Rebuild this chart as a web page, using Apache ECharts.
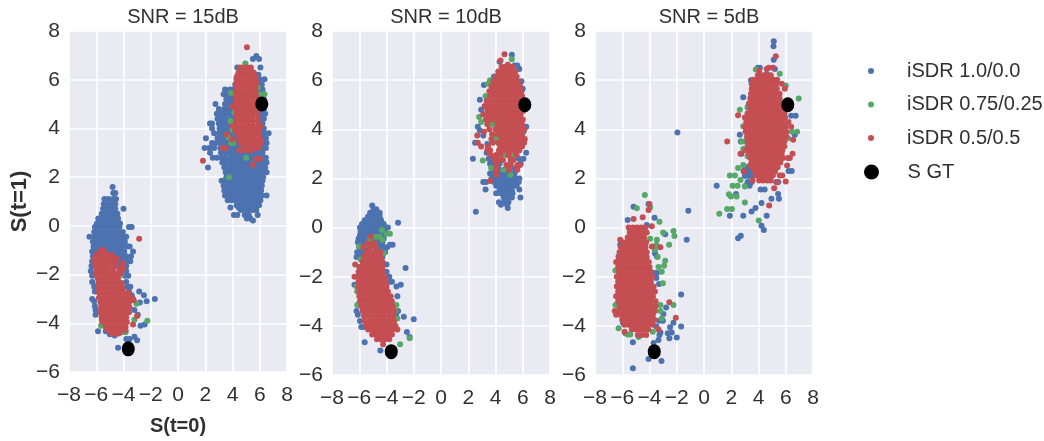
<!DOCTYPE html>
<html><head><meta charset="utf-8">
<style>html,body{margin:0;padding:0;background:#fff}#c{width:1044px;height:441px}</style>
<script src="https://cdn.jsdelivr.net/npm/echarts@6/dist/echarts.min.js"></script>
</head><body><div id="c"></div>
<script>
// each row: [y, x, x, x ...]
const panelTitles = ['SNR = 15dB','SNR = 10dB','SNR = 5dB'];
const seriesNames = ['iSDR 1.0/0.0','iSDR 0.75/0.25','iSDR 0.5/0.5','S GT'];
const groundTruth = [[6.15,5],[-3.65,-5.05]];

const blue15 = [
[6.97,5.75],[6.85,5.5,5.95],[6.5,6.05,4.35],[6.2,5.9,4.4],[6.02,6.35,6,4.3],[5.8,6.15,5.9,4.2],
[5.6,3.45,3.8,4.05,6.2,5.95],[5.4,3.35,3.7,4,6.25,5.95],[5.2,3.55,3.85,4.1,6.3,6],[5,2.75,3.45,3.75,4.05,6.4,6.05],
[4.8,3,3.4,3.7,4,6.3,6],[4.6,2.85,3.2,3.5,3.8,4.1,6.4,6.05],[4.4,2.9,3.2,3.5,3.85,4.1,6.3,6],
[4.2,2.35,2.5,3,3.3,3.6,3.9,4.15,6.2,5.95],[4,2.5,3.05,3.35,3.7,4,6.3,6],[3.8,2.65,3,3.3,3.6,3.9,4.2,6.65,6.3,6],
[3.6,2.05,2.9,3.25,3.55,3.85,4.2,6.45,6.15],[3.4,2.5,2.8,3.15,3.45,3.75,4.1,4.4,6.5,6.2],
[3.2,1.95,2.3,2.65,3.1,3.4,3.7,4,4.3,4.6,5,5.3,5.6,5.9,6.2,6.45],
[3,2.35,3.15,3.45,3.8,4.1,4.4,4.7,5,5.3,5.6,5.9,6.2],
[2.8,2.55,2.85,3.2,3.5,3.85,4.15,4.45,4.75,5.05,5.35,5.65,5.95,6.25,6.45],
[2.6,3.25,3.55,3.9,4.2,4.5,4.8,5.1,5.4,5.7,6,6.3,6.5],
[2.4,2.2,3.4,3.7,4,4.3,4.6,4.9,5.2,5.5,5.8,6.1,6.4],
[2.2,3.5,3.8,4.1,4.4,4.7,5,5.3,5.6,5.9,6.2,6.5],
[2,3.55,3.85,4.15,4.45,4.75,5.05,5.35,5.65,5.95,6.25],
[1.85,3.2,3.45,3.75,4.05,4.35,4.65,4.95,5.25,5.55,5.85,6.2],
[1.65,3.35,3.6,3.9,4.2,4.5,4.8,5.1,5.4,5.7,6,6.15],
[1.45,3.4,3.7,4,4.3,4.6,4.9,5.2,5.5,5.8,6.1],
[1.25,3.45,3.75,4.05,4.35,4.65,4.95,5.25,5.55,5.85,6.15,6.5],
[1.05,3.65,3.95,4.25,4.55,4.85,5.15,5.45,5.75,6.05],
[0.85,4.3,4.6,4.9,5.2,5.5,5.8,5.95],[0.75,3.85,4.45],[0.65,4.6,4.9,5.2,5.5,5.75],
[0.45,4.1,4.35,4.9,5.2,5.85],[0.3,5.05,5.3],[0.22,5.5],
[1.6,-4.8],[1.35,-4.75,-4.6],[1.1,-5.4,-5.1,-4.75,-4.55],[0.9,-5.45,-5.15,-4.85,-4.6],[0.7,-5.5,-5.2,-4.9,-4.6,-4],
[0.5,-5.6,-5.3,-5,-4.7,-4.45],[0.3,-5.85,-5.55,-5.25,-4.95,-4.65,-4.4],[0.1,-5.95,-5.65,-5.35,-5.05,-4.75,-4.45,-4.25],
[-0.05,-6.1,-5.8,-5.5,-5.2,-4.9,-4.6,-4.3,-3.4,-3.6],[-0.25,-6.15,-5.85,-5.55,-5.25,-4.95,-4.65,-4.35,-4.05],
[-0.45,-6.5,-6.15,-5.9,-5.6,-5.3,-5,-4.7,-4.4,-4.1,-3.8],[-0.65,-6.25,-5.95,-5.65,-5.35,-5.05,-4.75,-4.45,-4.15,-3.9],
[-0.85,-6.2,-5.9,-5.6,-5.3,-5,-4.7,-4.4,-4.1,-3.75,-3.55],[-1.05,-6.3,-6,-5.7,-5.4,-5.1,-4.8,-4.5,-4.2,-3.95,-3.3],
[-1.25,-6.25,-5,-4.7,-4.4,-4.1,-3.8,-3.45],[-1.45,-6.3,-4.6,-4.3,-4,-3.7,-3.5],[-1.65,-6.35,-4.4,-4.1,-3.8],
[-1.85,-6.4,-4.1,-3.8],[-2.05,-6.3,-3.9,-3.65],[-2.3,-6.3,-3.8],[-2.5,-6.15,-3.75,-3.5],[-2.7,-6.1,-3.6,-2.85],
[-2.85,-3.4,-2.5],[-3,-6.3,-1.7,-3.3],[-3.1,-6.15,-2.3],[-3.15,-2.8],[-3.3,-6.1],[-3.45,-6.05,-3.2],[-3.65,-6.05,-2.95],
[-4.05,-2.45],[-4.1,-2.75],[-4.33,-5.87,-5.3],[-4.45,-5],[-4.5,-4.65],[-4.55,-3.2],[-4.65,-3.8,-3.55],[-4.7,-3],[-5,-4.4]
];
const green15 = [
[6.67,4.94],[6.15,4.4],[5.68,5.87],[5.45,3.9],[5.4,6.07,6.35],[4.65,4.15],[4.3,3.86],[3.95,4],[3.65,3.67],[3.45,4.9],[3.4,3.9,4.05],[2.8,5],[2,3.74],
[-2,-4.15],[-2.55,-4.2],[-3.2,-3.05],[-3.85,-3.2,-5.6],[-3.9,-2.25],[-4.1,-5.65],[-4.37,-4.1,-3.85]
];
const red15 = [
[7.33,5.06],[6.5,4.55,4.8,5.1,5.35],[6.3,4.45,4.75,5.05,5.35,5.55],[6.1,4.3,4.6,4.9,5.2,5.5,5.7],[5.9,4.3,4.6,4.9,5.2,5.5,5.75],
[5.7,4.25,4.55,4.85,5.15,5.45,5.7],[5.5,4.25,4.55,4.85,5.15,5.45,5.7],[5.3,4.25,4.55,4.85,5.15,5.45,5.75],[5.1,4.25,4.55,4.85,5.15,5.45,5.75],
[4.9,3.96,4.3,4.6,4.9,5.2,5.5,5.8],[4.7,4.3,4.6,4.9,5.2,5.5,5.8],[4.5,4.3,4.6,4.9,5.2,5.5,5.85],[4.3,4.3,4.6,4.9,5.2,5.5,5.85],
[4.1,4.03,4.35,4.65,4.95,5.25,5.55,5.9,6.05],[3.9,4.2,4.5,4.8,5.1,5.4,5.7,5.95],[3.75,3.55,4.4,4.7,5,5.3,5.6,5.95],[3.55,3.96,4.5,4.8,5.1,5.4,5.7,6.05],
[3.4,4.6,4.95,5.25,5.5,5.8,6.1],[3.2,3.3,3.5,4.85,5.3,5.7,5.95],[3.1,4.5,4.7,5.1,5.4],[2.75,5.75,6],[2.67,1.83],[2.5,5.5],
[-0.53,-2.85],[-1,-5.65,-5.45],[-1.2,-6,-5.75,-5.45,-5.2,-4.85],[-1.35,-6.1,-5.8,-5.5,-5.2,-4.9,-4.65,-4.45],[-1.55,-6.1,-5.8,-5.5,-5.25,-4.9,-4.6,-4.05],
[-1.75,-6,-5.7,-5.4,-5.1,-4.75,-4.3,-4],[-1.95,-6.05,-5.75,-5.45,-5.15,-4.8,-4.5,-4.2],[-2.15,-5.9,-5.6,-5.3,-5,-4.7,-4.4],
[-2.35,-5.85,-5.55,-5.25,-4.95,-4.65,-4.35,-4.15],[-2.55,-5.85,-5.55,-5.25,-4.95,-4.65,-4.35,-4.05],[-2.75,-5.8,-5.5,-5.2,-4.9,-4.6,-4.3,-4,-3.65],
[-2.95,-5.8,-5.5,-5.2,-4.9,-4.6,-4.3,-4,-3.7,-3.4],[-3.05,-3.25],[-3.15,-5.7,-5.4,-5.1,-4.8,-4.5,-4.2,-3.9,-3.6],[-3.35,-5.65,-5.35,-5.05,-4.75,-4.45,-4.15,-3.85,-3.55],
[-3.55,-5.7,-5.4,-5.1,-4.8,-4.5,-4.2,-3.9,-3.6],[-3.7,-3],[-3.75,-5.6,-5.3,-5,-4.7,-4.4,-4.1,-3.8],[-3.95,-5.55,-5.25,-4.95,-4.65,-4.35,-4.05,-3.75],
[-4.05,-3.3],[-4.15,-5.3,-5,-4.7,-4.4,-4.1,-3.85],[-4.3,-5.1,-4.8,-4.5,-4.2,-3.85],[-4.42,-4.85,-4.6,-4.35]
];

const blue10 = [
[7.03,5.2],[6.75,4.3],[6.6,5.4,5.6],[6.45,5.75],[6.15,3.9],[5.95,3.7,5.9],[5.8,3.15],[5.65,6],[5.2,2.85],[4.8,2.95],[4.1,2.7,6.25],[3.95,2.85,6.1],[3.75,3.1],
[3.45,2.5],[3.4,3.4],[3.05,3.35,6.25],[2.8,2.34,3.5,3.75,4,5.7,6.05],[2.6,3.6,3.9,4.3,5.1,5.85],[2.4,3.75,4.2,4.9,5.4],
[2.2,3.6,3.9,4.2,4.5,4.8,5.1,5.4],[2,3.7,4,4.3,4.6,4.9,5.2,5.5,5.75],[1.85,3.1,3.3,3.9,4.2,4.5,4.8,5.1,5.4,5.7],[1.7,4.05,4.35,4.65,4.95,5.25,5.55],
[1.55,3.27,4.3,4.6,4.9,5.2,5.75],[1.4,4.05,4.37,4.65,4.95,5.25],[1.22,4.6,4.95,5.2,5.83],[1.03,4.25,4.65,4.95],[0.93,4.4,4.85],[0.8,4.9],[0.64,2.56],
[0.9,-5.05],[0.75,-4.95,-4.75],[0.6,-5.2,-4.9,-4.5],[0.45,-5.35,-5.05,-4.75,-4.5],[0.3,-5.6,-5.3,-5,-4.7,-4.4],[0.2,-3.15],
[0.15,-5.8,-5.5,-5.2,-4.9,-4.6,-4.2],[0,-5.95,-5.65,-5.35,-5.05,-4.75,-4.45,-4.15,-3.9],[-0.15,-5.9,-5.6,-5.3,-5,-4.7,-4.4,-4.1],
[-0.3,-5.95,-5.65,-5.35,-5.05,-4.75,-4.45,-4.2],[-0.45,-6.05,-5.75,-5.45,-5.15,-4.85,-4.55,-4.2],[-0.6,-6.1,-5.8,-5.5,-5.2,-4.9,-4.6,-4.3],
[-0.7,-3.75,-3.55],[-0.8,-6,-5.75,-5.45,-4.5,-4.15,-3.95],[-1,-6.15,-5.85,-4.4,-4.1],[-1.2,-6.2,-5.9,-4.3],[-1.5,-4.2,-4],[-1.65,-2.6],[-1.8,-4],
[-2,-3.8],[-2.2,-3.75,-3.6],[-2.33,-2.95,-6.35],[-2.4,-3.27],[-2.8,-3.2],[-3.4,-3.15,-6.2],[-3.55,-3.3,-6.1],[-3.63,-2.73],[-3.73,-2],[-3.8,-5.95],
[-4.05,-5.85,-5.7],[-4.25,-2.5],[-4.45,-2.3],[-4.67,-5.6],[-5,-4.45]
];
const green10 = [
[6.85,5.2],[6,3.6],[5.85,3.45],[5.35,3.27],[4.5,2.8],[4.3,2.95,3.68],[4.2,3.8],[3.85,6],[3.65,4.05,4.3],[3.5,4.15,4.4],[3.35,4.3],[3.25,4.5],[2.95,4.8,5.27],[2.73,3.07],[2.42,3.68],[2.35,4.6],[2.15,5.1],
[-0.1,-4.35],[-0.25,-4,-3.75],[-0.37,-4.5,-4.8],[-0.5,-4.3,-5.2],[-0.7,-5.35,-5.15,-4.85],[-0.77,-6],[-1.05,-4.2],[-1.3,-5.9],[-1.6,-6],[-2.4,-6.2],[-2.6,-6.15],[-3.15,-6.15,-3.27],[-3.4,-3.35],[-3.7,-3.2],[-4.5,-2.3],[-4.75,-3]
];
const red10 = [
[7.05,4.66],[6.8,4.37],[6.63,4.9],[6.55,4.45,4.75,5.05,5.25],[6.35,4.2,4.5,4.8,5.1,5.45],[6.15,4.05,4.35,4.65,4.95,5.25,5.55],[5.95,3.85,4.15,4.45,4.75,5.05,5.35,5.65],
[5.75,3.7,4,4.3,4.6,4.9,5.2,5.5,5.8],[5.55,3.55,3.85,4.15,4.45,4.75,5.05,5.35,5.65,5.9],[5.35,3.6,3.9,4.2,4.5,4.8,5.1,5.4,5.7,5.95],
[5.15,3.35,3.65,3.95,4.25,4.55,4.85,5.15,5.45,5.75,6],[4.95,3.2,3.5,3.8,4.1,4.4,4.7,5,5.3,5.6,5.9],[4.75,3.4,3.7,4,4.3,4.6,4.9,5.2,5.5,5.8,6.05],
[4.6,3.1,3.45,3.75,4.05,4.35,4.65,4.95,5.25,5.55,5.85],[4.4,3.3,3.6,3.9,4.2,4.5,4.8,5.1,5.4,5.7,6],[4.2,3.4,4.15,4.45,4.75,5.05,5.35,5.65,5.95],
[4,3.55,4,4.3,4.6,4.9,5.2,5.5,5.8,6.1],[3.9,3.15],[3.8,3.75,4.15,4.45,4.75,5.05,5.35,5.65,5.95],[3.75,2.66],[3.6,3.7,4.45,4.75,5.05,5.35,5.65,5.95,6.15],
[3.45,2.7,3.8,4.2,4.6,4.9,5.2,5.5,5.8,6.1],[3.3,2.95,3.45,4.4,4.7,5,5.3,5.6,5.95],[3.15,3.4,3.6,4.25,4.55,4.85,5.15,5.45,5.75],[2.95,3.65,4.05,4.4,4.95,5.55],
[2.75,3.95,4.2,4.55,5.1,5.3],[2.55,4.1,4.8,5.1,5.6,5.8],[2.35,4.05,5,5.6],[2.15,4.05],[1.9,3.6],
[-0.37,-5.15],[-0.65,-5.4,-5.05,-4.85],[-0.8,-5.7,-5.2,-4.8],[-1,-5.5,-5.25,-4.95,-4.6,-4.45],[-1.2,-5.65,-5.35,-5.05,-4.75,-4.45],[-1.4,-5.75,-5.45,-5.15,-4.85,-4.55,-4.3],
[-1.5,-6.3],[-1.6,-5.95,-5.65,-5.35,-5.05,-4.75,-4.45,-4.3],[-1.8,-6.05,-5.75,-5.45,-5.15,-4.85,-4.55,-4.25],[-2,-6.35,-6.15,-5.85,-5.55,-5.25,-4.95,-4.65,-4.35,-4.1],
[-2.2,-6.05,-5.75,-5.45,-5.15,-4.85,-4.55,-4.25,-4.05],[-2.4,-6.05,-5.8,-5.5,-5.2,-4.9,-4.6,-4.3,-4],[-2.6,-6,-5.7,-5.4,-5.1,-4.8,-4.5,-4.2,-3.9],
[-2.8,-6,-5.75,-5.45,-5.15,-4.85,-4.55,-4.25,-3.95,-3.7],[-3,-5.95,-5.65,-5.35,-5.05,-4.75,-4.45,-4.15,-3.85,-3.6],[-3.2,-5.85,-5.6,-5.3,-5,-4.7,-4.4,-4.1,-3.8,-3.55],
[-3.4,-5.75,-5.45,-5.15,-4.85,-4.55,-4.25,-3.95,-3.65,-3.45],[-3.6,-5.65,-5.35,-5.05,-4.75,-4.45,-4.15,-3.85,-3.55],[-3.8,-5.6,-5.3,-5,-4.7,-4.4,-4.1,-3.8,-3.45],
[-4,-5.5,-5.2,-4.9,-4.6,-4.3,-4,-3.7,-3.35],[-4.15,-5.35,-5.05,-4.75,-4.45,-4.15,-3.85,-3.55,-3.2],[-4.35,-5.05,-4.8,-4.5,-4.2,-3.9,-3.6],[-4.55,-4.7,-4.4,-4.1,-3.8],[-4.75,-4.25]
];

const blue5 = [
[7.58,5.12],[7.38,5.1],[6.83,5.12],[6.5,3.95,4.1],[6.45,5.2],[6.25,4.6],[6,3.45],[5.85,3.5],[5.3,2.88],[4.9,3.2],[4.55,6.73,6.4],[3.78,2.63,6.66],[3.87,-1.95],[3.5,2.7],[3,2.75],
[2.45,3,3.2],[2.3,2.9,3.15,3.4,6.2,6.44,5.2],[2.1,3,3.3,3.55],[1.85,3.2,3.5,5.3,5.45],[1.7,0.93,3.35,3.05],[1.55,4.15,4.45],[1.37,5.44,2.35],[1.17,5.5,4.95],[1,4.22],[0.8,3.78],[0.65,3.49],
[0.48,1.9,2.88,4.6],[0.07,4.22],[-0.1,4.39],[-0.33,2.7],[-0.43,2.5],
[0.96,-4.07],[0.85,-5.17],[0.68,-1.15],[0.4,-3.63],[0.31,-5.6],[0.1,-4.2],[-0.27,-2.85],[-0.5,-1.27,-5.5],[-0.7,-6.15],[-1.18,-6.27,-3.46],[-1.05,-3.6],[-1.85,-3.46,-3.6],[-2.05,-3.5],[-2.72,-1.68],[-2.3,-3.3],
[-3.25,-2.78],[-3.52,-2.98],[-3.79,-3.02,-3.3],[-3.87,-2.24,-5.95],[-4.03,-1.68,-3.5],[-4.06,-2.49],[-4.27,-2.37,-3.2],[-4.3,-2.66],[-4.37,-3.27],[-4.47,-2],[-4.5,-2.54],[-4.58,-3.34],[-4.67,-5.22],[-4.7,-3.7],[-5.35,-4.07],[-5.43,-3.12],[-5.73,-5.22]
];
const green5 = [
[6.43,3.8],[6.26,5.56],[5.78,6],[5.25,6.95],[4.93,3.24],[4.8,2.63],[4.2,3.2,5.85],[4.12,2.88,3.05],[3.9,6.83,6.45],[3.64,6.17],[3.5,2.76,3],[3.2,2.88],[2.9,3.2],[2.55,2.88],[2.42,2.5],[2.12,1.9,2.27],[1.94,2.68],[1.7,2.1,2.46],[1.67,3],[1.36,1.83],[1.26,1.98,2.39],[1.02,3],[0.76,1.7,2.05],[0.56,1.12],[0.29,4.02],
[1.33,-4.34],[0.83,-3.95],[0.79,-4.93],[0.24,-3.27],[-0.14,-2.24],[-0.2,-3],[-0.34,-2.17],[-0.46,-3.95],[-0.5,-3.46],[-0.7,-2.56,-3.5],[-0.9,-3.6],[-1.2,-3.4],[-1.35,-2.85],[-1.55,-2.93],[-1.6,-3.34],[-1.75,-6.5],[-1.8,-3.1],[-2.27,-3.02],[-3.15,-2.24,-3.2,-6.5],[-3.4,-3.2],[-3.7,-3.1],[-3.84,-5.53],[-4.1,-6.27],[-4.24,-3.76],[-4.3,-5.78],[-4.35,-5.41,-5.6],[-4.45,-4.8]
];
const red5 = [
[6.97,5.27],[6.5,5.07,4.75],[6.45,4.6],[6.38,4.05],[6.2,3.95,4.3,4.6,4.9],[6.02,5.37,3.6,3.9,4.2,4.5,4.8,5.1],[5.85,3.55,3.85,4.15,4.45,4.75,5.05,5.3,5.7],[5.65,3.5,3.8,4.1,4.4,4.7,5,5.35,5.93],
[5.45,3.45,3.75,4.05,4.35,4.65,4.95,5.25,5.55],[5.25,3.4,3.7,4,4.3,4.6,4.9,5.2,5.55],[5.05,3.3,3.6,3.9,4.2,4.5,4.8,5.1,5.4,5.75],[4.85,3.4,3.7,4,4.3,4.6,4.9,5.2,5.5,5.8],
[4.65,3.2,3.5,3.8,4.1,4.4,4.7,5,5.3,5.6,5.9],[4.57,2.5],[4.48,3,3.3,3.6,3.9,4.2,4.5,4.8,5.1,5.4,5.7,5.95],[4.3,3.1,3.4,3.7,4,4.3,4.6,4.9,5.2,5.5,5.8,6.2],
[4.1,3,3.3,3.6,3.9,4.2,4.5,4.8,5.1,5.4,5.7,6,6.4],[3.9,3.05,3.35,3.65,3.95,4.25,4.55,4.85,5.15,5.45,5.75,6.05],[3.7,3.15,3.45,3.75,4.05,4.35,4.65,4.95,5.25,5.55,5.85,6.05],[3.57,6.54],[3.5,1.7,3.2,3.5,3.8,4.1,4.4,4.7,5,5.3,5.6,5.9],
[3.3,3.2,3.5,3.8,4.1,4.4,4.7,5,5.3,5.6,5.9],[3.15,3.05,3.35,3.65,3.95,4.25,4.55,4.85,5.15,5.45,5.75],[3,2.68,3.3,3.6,3.9,4.2,4.5,4.8,5.1,5.4,5.7,6.5],[2.83,3.4,3.7,4,4.3,4.6,4.9,5.2,5.5,5.8,6.3,6.15],
[2.65,3.5,3.8,4.1,4.4,4.7,5,5.3,5.6],[2.53,3.37,6.1],[2.45,3.6,3.9,4.2,4.5,4.8,5.1,5.4],[2.28,2.93,3.7,4,4.3,4.6,4.9,5.2],[2.12,3.85,4.15,4.45,4.75,5.05,5.56,5.75],[1.92,3.56,4.05,4.35,4.65,4.9],[1.88,6],[1.83,5.37],[1.6,5.15],[0.9,4.78],
[0.96,-4],[0.72,-4.07],[0.42,-4.5],[0.35,-5.17],[0.05,-3.83],[0,-5.53,-5.2,-4.9,-4.6,-4.3],[-0.2,-5.45,-5.1,-4.8,-4.5,-4.2],[-0.4,-5.6,-5.3,-5,-4.7,-4.4],
[-0.5,-6.15],[-0.6,-5.95,-5.65,-5.35,-5.05,-4.75,-4.45,-4.25],[-0.77,-3.83],[-0.8,-6.1,-5.8,-5.5,-5.2,-4.9,-4.6,-4.3,-3.2],[-1,-6.2,-5.9,-5.6,-5.3,-5,-4.7,-4.4,-4.2],
[-1.2,-6.25,-5.95,-5.65,-5.35,-5.05,-4.75,-4.45,-4.2],[-1.4,-6.45,-6.15,-5.85,-5.55,-5.25,-4.95,-4.65,-4.35,-4.05],[-1.6,-6.3,-6,-5.7,-5.4,-5.1,-4.8,-4.5,-4.2,-4],
[-1.8,-6.25,-5.95,-5.65,-5.35,-5.05,-4.75,-4.45,-4.15,-3.9],[-2,-6.4,-6.1,-5.8,-5.5,-5.2,-4.9,-4.6,-4.3,-4,-3.8],[-2.2,-6.3,-6,-5.7,-5.4,-5.1,-4.8,-4.5,-4.2,-3.9],
[-2.4,-6.4,-6.1,-5.8,-5.5,-5.2,-4.9,-4.6,-4.3,-4,-3.7],[-2.6,-6.3,-6,-5.7,-5.4,-5.1,-4.8,-4.5,-4.2,-3.9,-3.6],[-2.8,-6.45,-6.15,-5.85,-5.55,-5.25,-4.95,-4.65,-4.35,-4.05,-3.75],
[-3,-6.3,-6,-5.7,-5.4,-5.1,-4.8,-4.5,-4.2,-3.9,-3.55],[-3.04,-2.54],[-3.2,-6.2,-5.9,-5.6,-5.3,-5,-4.7,-4.4,-4.1,-3.8,-3.55],[-3.4,-6.55,-6.3,-6,-5.7,-5.4,-5.1,-4.8,-4.5,-4.2,-3.9,-3.6],
[-3.55,-6.45,-6.15,-5.85,-5.55,-5.25,-4.95,-4.65,-4.35,-4.05,-3.75],[-3.67,-2.07],[-3.75,-6,-5.7,-5.4,-5.1,-4.8,-4.5,-4.2,-3.9,-3.65],[-3.95,-5.85,-5.55,-5.25,-4.95,-4.65,-4.35,-4.05,-3.75],
[-4.15,-5.3,-5,-4.7,-4.4,-4.1,-3.34],[-4.24,-5.83],[-4.37,-4.24,-4.55,-4.85]
];

const bluePanels = [blue15, blue10, blue5];
const greenPanels = [green15, green10, green5];
const redPanels = [red15, red10, red5];
const xTicksMin = -8, xTicksMax = 8, yTicksMin = -6, yTicksMax = 8, tickStep = 2;

const pts = rows => rows.flatMap(([y, ...xs]) => xs.map(x => [x, y]));
const colors = ['#4C72B0', '#55A868', '#C44E52', '#000000'];
const lefts = [69, 332, 595];
const ink = '#303030';
const fontFamily = '"Liberation Sans", Arial, sans-serif';
const minus = v => String(v).replace('-', '\u2212');

const grid = [], xAxis = [], yAxis = [], series = [], title = [];
panelTitles.forEach((t, i) => {
  grid.push({left: lefts[i], top: 31, width: 218, height: 344, show: true, backgroundColor: '#EAEAF2', borderWidth: 0});
  title.push({text: t, left: lefts[i] + 109, top: 2, textAlign: 'center',
    textStyle: {color: ink, fontFamily, fontSize: 20, fontWeight: 'normal'}});
  const axisCommon = {
    type: 'value', interval: tickStep, gridIndex: i,
    axisLine: {show: false}, axisTick: {show: false},
    splitLine: {show: true, lineStyle: {color: '#fff', width: 1.6}},
    axisLabel: {color: ink, fontFamily, fontSize: 21, formatter: minus, hideOverlap: false},
    nameTextStyle: {color: ink, fontFamily, fontSize: 20, fontWeight: 'bold'}
  };
  xAxis.push(Object.assign({}, axisCommon, {min: xTicksMin, max: xTicksMax,
    axisLabel: Object.assign({}, axisCommon.axisLabel, {margin: 13}),
    name: i === 0 ? 'S(t=0)' : '', nameLocation: 'middle', nameGap: 44}));
  yAxis.push(Object.assign({}, axisCommon, {min: yTicksMin, max: yTicksMax,
    axisLabel: Object.assign({}, axisCommon.axisLabel, {margin: 9}),
    name: i === 0 ? 'S(t=1)' : '', nameLocation: 'middle', nameGap: 38,
    nameTextStyle: {color: ink, fontFamily, fontSize: 22, fontWeight: 'bold'}}));
  [bluePanels, greenPanels, redPanels].forEach((p, k) => {
    series.push({type: 'scatter', name: seriesNames[k], xAxisIndex: i, yAxisIndex: i, data: pts(p[i]),
      symbolSize: 6, itemStyle: {color: colors[k], opacity: 1}, z: 2 + k, silent: true, large: false});
  });
  series.push({type: 'scatter', name: seriesNames[3], xAxisIndex: i, yAxisIndex: i, data: groundTruth,
    symbolSize: [13, 15], itemStyle: {color: colors[3], opacity: 1}, z: 6, silent: true});
});
const legendLefts = [863, 863, 863, 859];
const legendTops = [56, 89.5, 123, 157];
const legend = seriesNames.map((n, k) => ({
  data: [n], left: legendLefts[k], top: legendTops[k], itemWidth: 62, itemHeight: k === 3 ? 15 : 6,
  selectedMode: false, textStyle: {color: ink, fontFamily, fontSize: 20}
}));
const chart = echarts.init(document.getElementById('c'), null, {renderer: 'canvas'});
chart.setOption({animation: false, backgroundColor: '#fff', grid, xAxis, yAxis, series, title, legend});
</script></body></html>
